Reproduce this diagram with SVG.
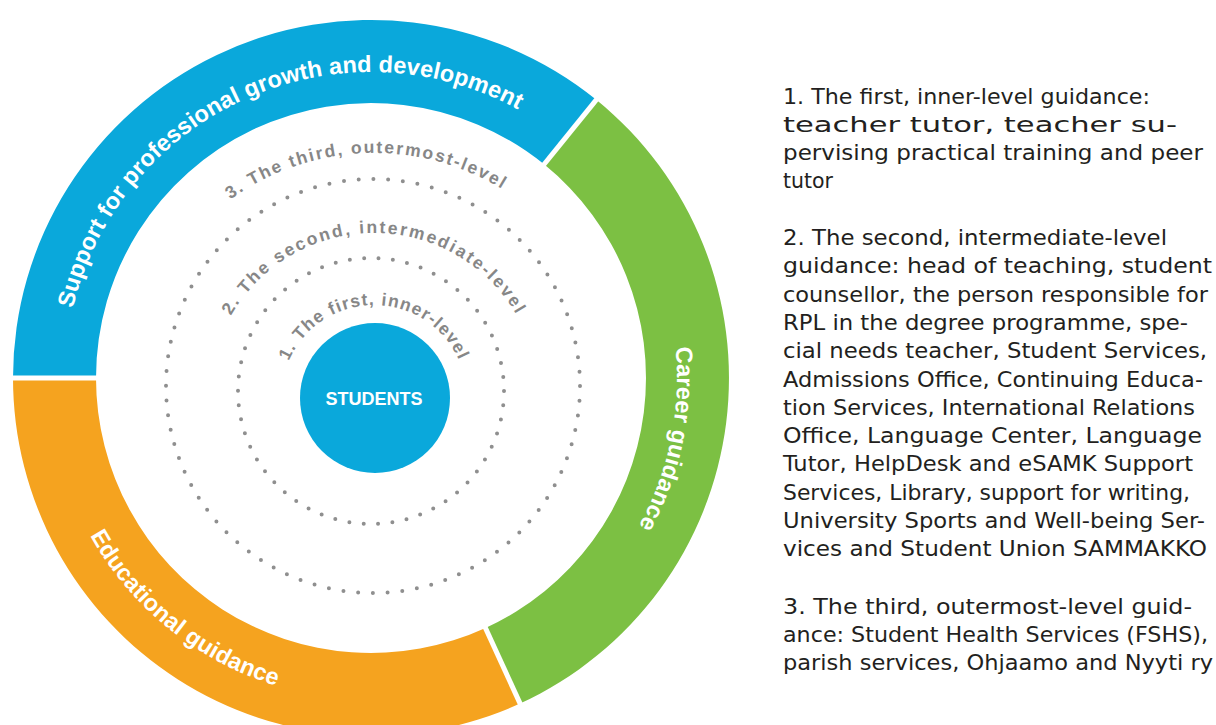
<svg xmlns="http://www.w3.org/2000/svg" xmlns:xlink="http://www.w3.org/1999/xlink" width="1216" height="725" viewBox="0 0 1216 725">
<style>
.ring-label{font-family:"Liberation Sans",Arial,sans-serif;font-weight:bold;font-size:23.5px;fill:#ffffff;letter-spacing:0.1px}
.lvl{font-family:"Liberation Sans",Arial,sans-serif;font-weight:bold;font-size:17.5px;fill:#878787}
.dots{fill:none;stroke:#8f8f8f;stroke-width:4;stroke-linecap:round}
.sep{stroke:#ffffff;stroke-width:5}
.legend{font-family:"DejaVu Sans",sans-serif;font-size:20.5px;fill:#231f20}
</style>
<defs>
<path id="pCw" d="M65,378 A306,306 0 1 1 677,378 A306,306 0 1 1 65,378"/>
<path id="pCcw" d="M49,378 A322,322 0 0 0 693,378 A322,322 0 0 0 49,378"/>
<path id="pL1" d="M281,398 A93,93 0 0 1 467,398"/>
<path id="pL2" d="M209,398 A165,165 0 0 1 539,398"/>
<path id="pL3" d="M129,398 A245,245 0 0 1 619,398"/>
</defs>
<rect width="1216" height="725" fill="#ffffff"/>

<g id="ring-professional">
<path d="M13,378 A358,358 0 0 1 596.3,99.8 L544.1,164.3 A275,275 0 0 0 96,378 Z" fill="#0AA8DB"/>
<text class="ring-label"><textPath href="#pCw" xlink:href="#pCw" startOffset="352" text-anchor="middle">Support for professional growth and development</textPath></text>
</g>
<g id="ring-career">
<path d="M596.3,99.8 A358,358 0 0 1 520.0,703.5 L485.5,628.0 A275,275 0 0 0 544.1,164.3 Z" fill="#7CC043"/>
<text class="ring-label"><textPath href="#pCw" xlink:href="#pCw" startOffset="1023" text-anchor="middle">Career guidance</textPath></text>
</g>
<g id="ring-educational">
<path d="M520.0,703.5 A358,358 0 0 1 13,378 L96,378 A275,275 0 0 0 485.5,628.0 Z" fill="#F5A31F"/>
<text class="ring-label"><textPath href="#pCcw" xlink:href="#pCcw" startOffset="287" text-anchor="middle">Educational guidance</textPath></text>
</g>
<g id="ring-separators">
<line class="sep" x1="103" y1="378" x2="6" y2="378"/>
<line class="sep" x1="539.7" y1="169.7" x2="600.7" y2="94.4"/>
<line class="sep" x1="482.6" y1="621.7" x2="523.0" y2="709.9"/>
</g>

<g id="level-3">
<circle class="dots" cx="373" cy="386" r="207" stroke-dasharray="0 14.78"/>
<text class="lvl" style="letter-spacing:1.9px"><textPath href="#pL3" xlink:href="#pL3" startOffset="376" text-anchor="middle">3. The third, outermost-level</textPath></text>
</g>
<g id="level-2">
<circle class="dots" cx="371" cy="391" r="133" stroke-dasharray="0 14.41"/>
<text class="lvl" style="letter-spacing:2.15px"><textPath href="#pL2" xlink:href="#pL2" startOffset="50%" text-anchor="middle">2. The second, intermediate-level</textPath></text>
</g>
<g id="level-1">
<text class="lvl" style="letter-spacing:1.2px"><textPath href="#pL1" xlink:href="#pL1" startOffset="50%" text-anchor="middle">1. The first, inner-level</textPath></text>
</g>

<g id="students">
<circle cx="375" cy="398" r="75" fill="#0AA8DB"/>
<text x="374" y="405" text-anchor="middle" font-family="Liberation Sans, Arial, sans-serif" font-weight="bold" font-size="18" fill="#ffffff">STUDENTS</text>
</g>

<g id="legend" class="legend">
<text x="783" y="103.5" textLength="367" lengthAdjust="spacingAndGlyphs">1. The first, inner-level guidance:</text>
<text x="783" y="131.8" textLength="394" lengthAdjust="spacingAndGlyphs">teacher tutor, teacher su-</text>
<text x="783" y="160.1" textLength="420" lengthAdjust="spacingAndGlyphs">pervising practical training and peer</text>
<text x="783" y="188.4" textLength="50" lengthAdjust="spacingAndGlyphs">tutor</text>
<text x="783" y="245" textLength="384" lengthAdjust="spacingAndGlyphs">2. The second, intermediate-level</text>
<text x="783" y="273.3" textLength="429" lengthAdjust="spacingAndGlyphs">guidance: head of teaching, student</text>
<text x="783" y="301.6" textLength="425" lengthAdjust="spacingAndGlyphs">counsellor, the person responsible for</text>
<text x="783" y="329.9" textLength="405" lengthAdjust="spacingAndGlyphs">RPL in the degree programme, spe-</text>
<text x="783" y="358.2" textLength="424" lengthAdjust="spacingAndGlyphs">cial needs teacher, Student Services,</text>
<text x="783" y="386.5" textLength="420" lengthAdjust="spacingAndGlyphs">Admissions Office, Continuing Educa-</text>
<text x="783" y="414.8" textLength="412" lengthAdjust="spacingAndGlyphs">tion Services, International Relations</text>
<text x="783" y="443.1" textLength="419" lengthAdjust="spacingAndGlyphs">Office, Language Center, Language</text>
<text x="783" y="471.4" textLength="410" lengthAdjust="spacingAndGlyphs">Tutor, HelpDesk and eSAMK Support</text>
<text x="783" y="499.7" textLength="407" lengthAdjust="spacingAndGlyphs">Services, Library, support for writing,</text>
<text x="783" y="528" textLength="422" lengthAdjust="spacingAndGlyphs">University Sports and Well-being Ser-</text>
<text x="783" y="556.3" textLength="424" lengthAdjust="spacingAndGlyphs">vices and Student Union SAMMAKKO</text>
<text x="783" y="613.5" textLength="409" lengthAdjust="spacingAndGlyphs">3. The third, outermost-level guid-</text>
<text x="783" y="641.8" textLength="425" lengthAdjust="spacingAndGlyphs">ance: Student Health Services (FSHS),</text>
<text x="783" y="670.1" textLength="430" lengthAdjust="spacingAndGlyphs">parish services, Ohjaamo and Nyyti ry</text>
</g>
</svg>
